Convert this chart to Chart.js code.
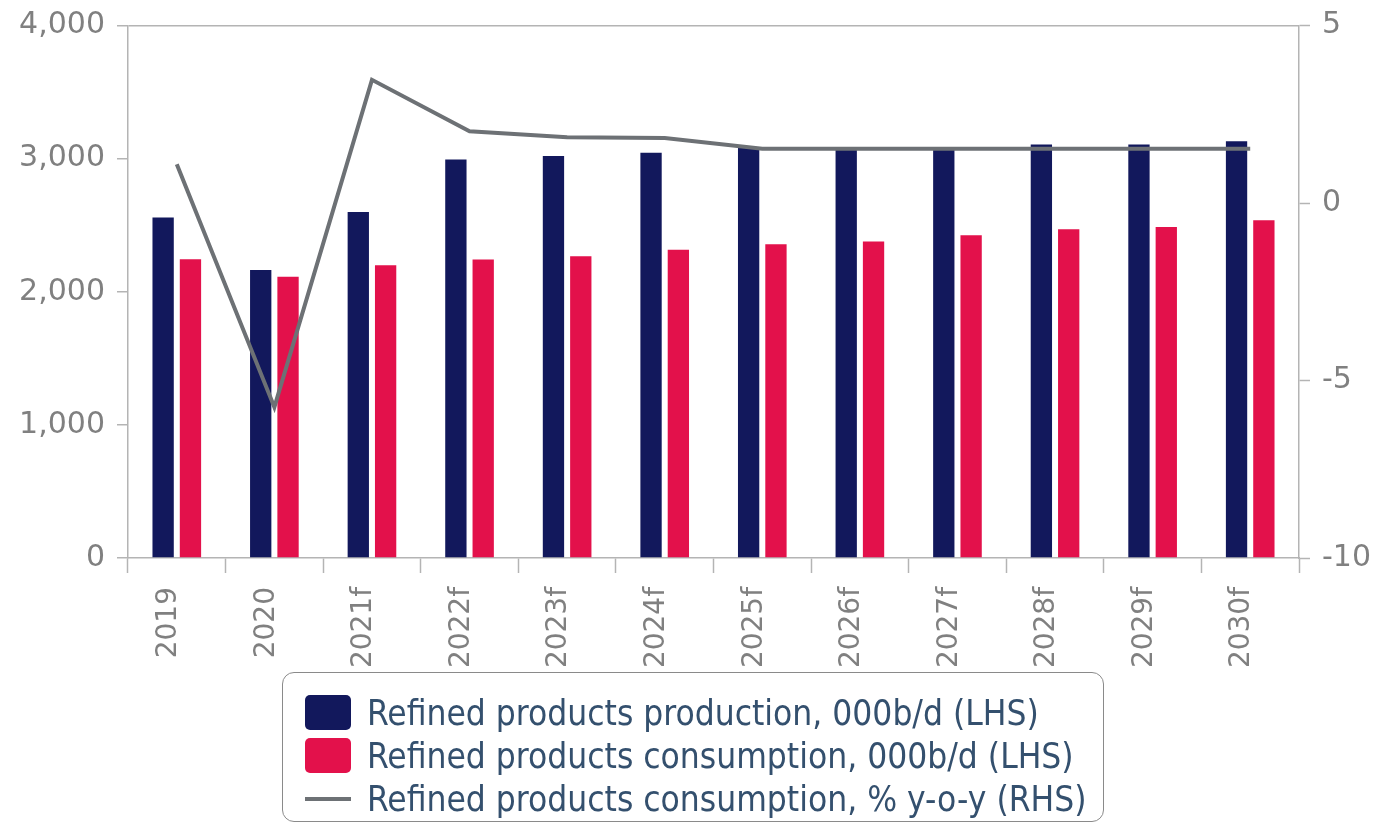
<!DOCTYPE html>
<html>
<head>
<meta charset="utf-8">
<script src="https://cdn.jsdelivr.net/npm/chart.js@4"></script>
<style>
  html, body { margin: 0; padding: 0; background: #fff; }
  #wrap { position: relative; width: 1374px; height: 828px; }
  #legend {
    position: absolute; left: 282px; top: 672px; width: 822px; height: 150px;
    box-sizing: border-box; border: 1.5px solid #8a8a8a; border-radius: 12px;
    padding: 18px 0 0 22px;
    font-family: "DejaVu Sans Condensed", "DejaVu Sans", sans-serif; font-stretch: condensed;
    font-size: 35px; color: #34506e;
  }
  .row { display: flex; align-items: center; height: 43px; }
  .sw { width: 46px; height: 35px; border-radius: 5px; margin-right: 16px; flex: none; }
  .ln { width: 46px; height: 4px; background: #6d7175; margin-right: 16px; flex: none; }
</style>
</head>
<body>
<div id="wrap">
  <canvas id="chart" width="1374" height="828"></canvas>
  <div id="legend"></div>
</div>
<script>
// categories and series
const YEARS = ['2019', '2020', '2021f', '2022f', '2023f', '2024f', '2025f', '2026f', '2027f', '2028f', '2029f', '2030f'];
const PRODUCTION = [2557, 2163, 2599, 2994, 3019, 3044, 3084, 3073, 3073, 3106, 3106, 3131];
const CONSUMPTION = [2245, 2112, 2200, 2242, 2267, 2315, 2357, 2377, 2425, 2470, 2487, 2537];
const CONSUMPTION_YOY = [1.09, -5.75, 3.47, 2.02, 1.85, 1.83, 1.53, 1.53, 1.53, 1.53, 1.53, 1.53];

const LABEL_PROD = 'Refined products production, 000b/d (LHS)';
const LABEL_CONS = 'Refined products consumption, 000b/d (LHS)';
const LABEL_YOY = 'Refined products consumption, % y-o-y (RHS)';

const NAVY = '#12185c';
const CRIMSON = '#e3114b';
const GREY_LINE = '#6d7175';
const AXIS = '#b4b4b4';
const TICK_TXT = '#808080';
// small lineHeight so the label overflow doesn't push the plot top down
const tickFont = { family: "'DejaVu Sans', sans-serif", size: 30, lineHeight: 0.9 };

new Chart(document.getElementById('chart'), {
    type: 'bar',
    data: {
        labels: YEARS,
        datasets: [
            {
                type: 'line',
                label: LABEL_YOY,
                data: CONSUMPTION_YOY,
                yAxisID: 'y1',
                borderColor: GREY_LINE,
                borderWidth: 4,
                pointRadius: 0,
                tension: 0,
                order: 0
            },
            {
                label: LABEL_PROD,
                data: PRODUCTION,
                backgroundColor: NAVY,
                categoryPercentage: 0.56,
                barPercentage: 0.78,
                order: 1
            },
            {
                label: LABEL_CONS,
                data: CONSUMPTION,
                backgroundColor: CRIMSON,
                categoryPercentage: 0.56,
                barPercentage: 0.78,
                order: 1
            }
        ]
    },
    options: {
        responsive: false,
        devicePixelRatio: 1,
        animation: false,
        layout: { padding: { top: 24, left: 0, right: 0, bottom: 0 } },
        plugins: {
            legend: { display: false },
            tooltip: { enabled: false }
        },
        scales: {
            x: {
                grid: { drawOnChartArea: false, tickLength: 15, tickColor: AXIS, tickWidth: 1.5 },
                border: { color: AXIS, width: 1.5 },
                ticks: {
                    color: TICK_TXT,
                    font: { family: "'DejaVu Sans', sans-serif", size: 28 },
                    minRotation: 90, maxRotation: 90,
                    padding: 14, labelOffset: -8, autoSkip: false
                },
                afterFit: function(scale) { scale.height = 270; }
            },
            y: {
                position: 'left',
                min: 0,
                max: 4000,
                ticks: { stepSize: 1000, color: TICK_TXT, font: tickFont, padding: 12 },
                grid: {
                    // only the 4,000 line is drawn, as the frame's top edge
                    color: function(ctx) { return ctx.tick && ctx.tick.value === 4000 ? AXIS : 'rgba(0,0,0,0)'; },
                    lineWidth: 1.5,
                    tickColor: AXIS,
                    tickLength: 11,
                    tickWidth: 1.5
                },
                border: { color: AXIS, width: 1.5 },
                afterFit: function(scale) { scale.width = 128; }
            },
            y1: {
                position: 'right',
                min: -10,
                max: 5,
                ticks: { stepSize: 5, color: TICK_TXT, font: tickFont, padding: 12 },
                grid: { drawOnChartArea: false, tickColor: AXIS, tickLength: 11, tickWidth: 1.5 },
                border: { color: AXIS, width: 1.5 },
                afterFit: function(scale) { scale.width = 75; }
            }
        }
    }
});

// html legend in a rounded box under the axis labels
const legendEl = document.getElementById('legend');
[[LABEL_PROD, 'sw', NAVY], [LABEL_CONS, 'sw', CRIMSON], [LABEL_YOY, 'ln', GREY_LINE]].forEach(function(item) {
    const row = document.createElement('div');
    row.className = 'row';
    const mark = document.createElement('span');
    mark.className = item[1];
    mark.style.background = item[2];
    const txt = document.createElement('span');
    txt.textContent = item[0];
    row.appendChild(mark);
    row.appendChild(txt);
    legendEl.appendChild(row);
});
</script>
</body>
</html>
